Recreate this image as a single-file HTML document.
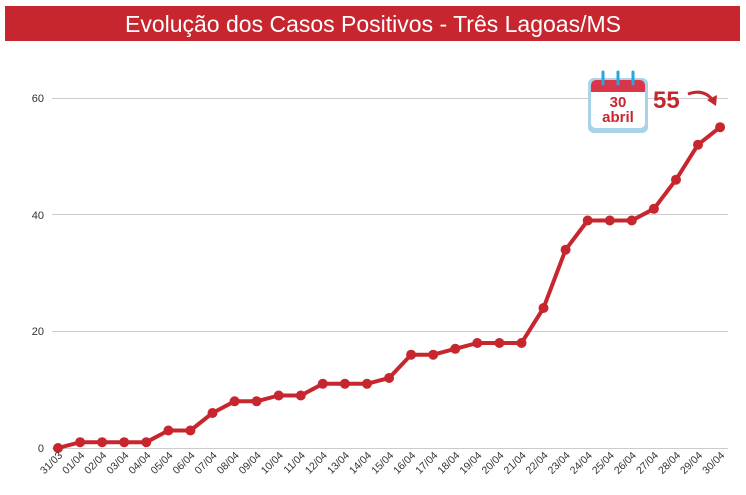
<!DOCTYPE html>
<html><head><meta charset="utf-8"><style>
body{margin:0;background:#fff;width:746px;height:490px;overflow:hidden;font-family:"Liberation Sans",sans-serif}
</style></head><body>
<svg width="746" height="490" xmlns="http://www.w3.org/2000/svg">
<rect x="5" y="6" width="735" height="35" fill="#c8262e"/>
<text x="373" y="32" text-anchor="middle" fill="#fff" font-size="23" font-family="Liberation Sans, sans-serif">Evolução dos Casos Positivos - Três Lagoas/MS</text>
<g stroke="#ccc" stroke-width="1">
<line x1="52" y1="448.5" x2="728" y2="448.5"/>
<line x1="52" y1="331.5" x2="728" y2="331.5"/>
<line x1="52" y1="214.5" x2="728" y2="214.5"/>
<line x1="52" y1="98.5" x2="728" y2="98.5"/>
</g>
<g font-size="11" fill="#333" text-anchor="end">
<text x="44" y="452">0</text><text x="44" y="335">20</text><text x="44" y="219">40</text><text x="44" y="102">60</text>
</g>
<polyline fill="none" stroke="#c8262e" stroke-width="4" stroke-linejoin="round" points="58,448 80.1,442.2 102.1,442.2 124.2,442.2 146.3,442.2 168.4,430.5 190.4,430.5 212.5,413 234.6,401.3 256.6,401.3 278.7,395.5 300.8,395.5 322.8,383.8 344.9,383.8 367,383.8 389.1,378 411.1,354.7 433.2,354.7 455.3,348.8 477.3,343 499.4,343 521.5,343 543.5,308 565.6,249.7 587.7,220.5 609.8,220.5 631.8,220.5 653.9,208.8 676,179.7 698,144.7 720.1,127.2"/>
<g fill="#c8262e">
<circle cx="58" cy="448" r="5"/><circle cx="80.1" cy="442.2" r="5"/><circle cx="102.1" cy="442.2" r="5"/><circle cx="124.2" cy="442.2" r="5"/><circle cx="146.3" cy="442.2" r="5"/><circle cx="168.4" cy="430.5" r="5"/><circle cx="190.4" cy="430.5" r="5"/><circle cx="212.5" cy="413" r="5"/><circle cx="234.6" cy="401.3" r="5"/><circle cx="256.6" cy="401.3" r="5"/><circle cx="278.7" cy="395.5" r="5"/><circle cx="300.8" cy="395.5" r="5"/><circle cx="322.8" cy="383.8" r="5"/><circle cx="344.9" cy="383.8" r="5"/><circle cx="367" cy="383.8" r="5"/><circle cx="389.1" cy="378" r="5"/><circle cx="411.1" cy="354.7" r="5"/><circle cx="433.2" cy="354.7" r="5"/><circle cx="455.3" cy="348.8" r="5"/><circle cx="477.3" cy="343" r="5"/><circle cx="499.4" cy="343" r="5"/><circle cx="521.5" cy="343" r="5"/><circle cx="543.5" cy="308" r="5"/><circle cx="565.6" cy="249.7" r="5"/><circle cx="587.7" cy="220.5" r="5"/><circle cx="609.8" cy="220.5" r="5"/><circle cx="631.8" cy="220.5" r="5"/><circle cx="653.9" cy="208.8" r="5"/><circle cx="676" cy="179.7" r="5"/><circle cx="698" cy="144.7" r="5"/><circle cx="720.1" cy="127.2" r="5"/>
</g>
<g font-size="10.5" fill="#333" text-anchor="end">
<text transform="translate(63,456) rotate(-45)">31/03</text>
<text transform="translate(85.1,456) rotate(-45)">01/04</text>
<text transform="translate(107.1,456) rotate(-45)">02/04</text>
<text transform="translate(129.2,456) rotate(-45)">03/04</text>
<text transform="translate(151.3,456) rotate(-45)">04/04</text>
<text transform="translate(173.4,456) rotate(-45)">05/04</text>
<text transform="translate(195.4,456) rotate(-45)">06/04</text>
<text transform="translate(217.5,456) rotate(-45)">07/04</text>
<text transform="translate(239.6,456) rotate(-45)">08/04</text>
<text transform="translate(261.6,456) rotate(-45)">09/04</text>
<text transform="translate(283.7,456) rotate(-45)">10/04</text>
<text transform="translate(305.8,456) rotate(-45)">11/04</text>
<text transform="translate(327.8,456) rotate(-45)">12/04</text>
<text transform="translate(349.9,456) rotate(-45)">13/04</text>
<text transform="translate(372,456) rotate(-45)">14/04</text>
<text transform="translate(394.1,456) rotate(-45)">15/04</text>
<text transform="translate(416.1,456) rotate(-45)">16/04</text>
<text transform="translate(438.2,456) rotate(-45)">17/04</text>
<text transform="translate(460.3,456) rotate(-45)">18/04</text>
<text transform="translate(482.3,456) rotate(-45)">19/04</text>
<text transform="translate(504.4,456) rotate(-45)">20/04</text>
<text transform="translate(526.5,456) rotate(-45)">21/04</text>
<text transform="translate(548.5,456) rotate(-45)">22/04</text>
<text transform="translate(570.6,456) rotate(-45)">23/04</text>
<text transform="translate(592.7,456) rotate(-45)">24/04</text>
<text transform="translate(614.8,456) rotate(-45)">25/04</text>
<text transform="translate(636.8,456) rotate(-45)">26/04</text>
<text transform="translate(658.9,456) rotate(-45)">27/04</text>
<text transform="translate(681,456) rotate(-45)">28/04</text>
<text transform="translate(703,456) rotate(-45)">29/04</text>
<text transform="translate(725.1,456) rotate(-45)">30/04</text>
</g>
<!-- calendar -->
<rect x="588" y="78" width="60" height="55" rx="6" fill="#a9d3e8"/>
<rect x="591" y="80" width="54" height="48" rx="5" fill="#fff"/>
<path d="M591 92 V85 a5 5 0 0 1 5 -5 H640 a5 5 0 0 1 5 5 V92 Z" fill="#d9364a"/>
<g stroke="#2aa6df" stroke-width="3" stroke-linecap="round"><line x1="603" y1="72" x2="603" y2="84"/><line x1="618" y1="72" x2="618" y2="84"/><line x1="633" y1="72" x2="633" y2="84"/></g>
<text x="618" y="107" text-anchor="middle" font-size="15" font-weight="bold" fill="#c8262e">30</text>
<text x="618" y="122" text-anchor="middle" font-size="15" font-weight="bold" fill="#c8262e">abril</text>
<text x="653" y="108" font-size="24" font-weight="bold" fill="#c8262e">55</text>
<path d="M688 94 Q705 88 714 102" fill="none" stroke="#c8262e" stroke-width="3"/>
<path d="M707 100 L716 106 L717 95 Z" fill="#c8262e"/>
</svg>
</body></html>
